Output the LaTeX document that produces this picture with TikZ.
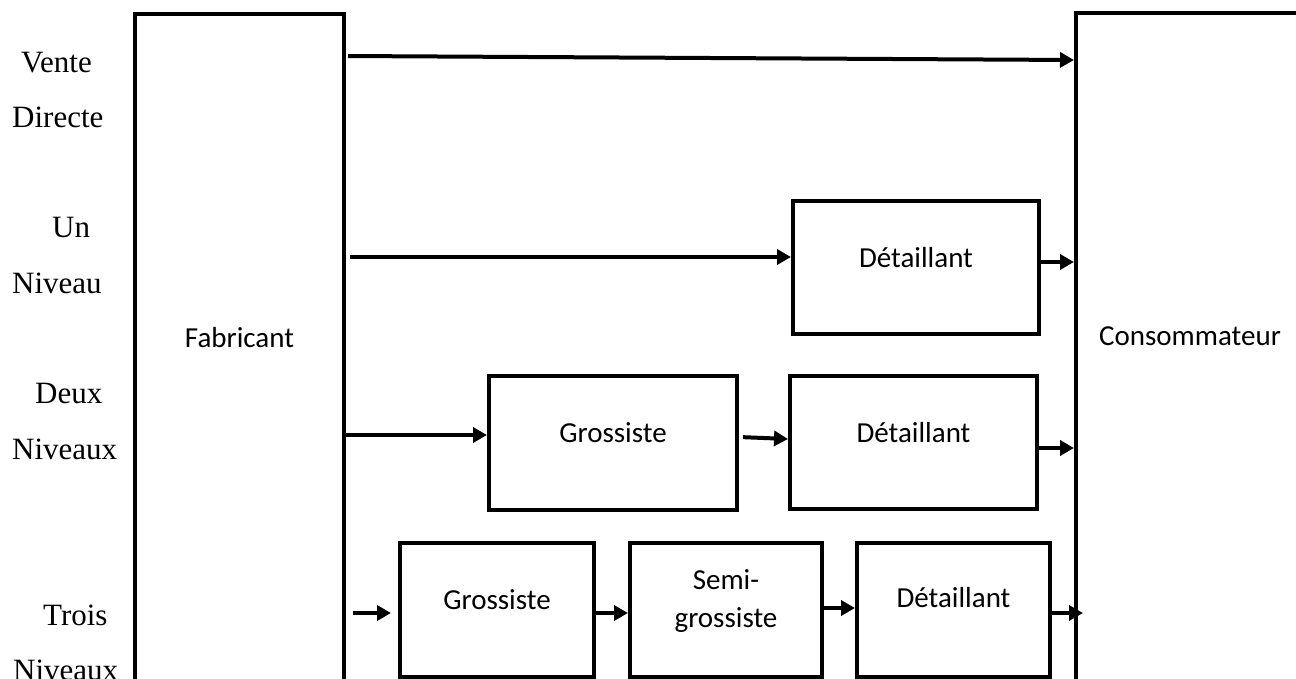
\documentclass[tikz,border=0pt]{standalone}
\usepackage{fontspec}
\setmainfont{Liberation Serif}
\newfontfamily\boxfont{Carlito}
\usetikzlibrary{arrows.meta}
\begin{document}
\begin{tikzpicture}[x=1pt,y=-1pt,
  stage/.style={draw, line width=4pt, inner sep=0pt},
  arr/.style={line width=4pt, -{Triangle[length=14pt,width=15pt]}},
  lbl/.style={font=\fontsize{31}{37}\selectfont, inner sep=0pt, anchor=base west},
  boxtxt/.style={font=\boxfont\fontsize{29}{38}\selectfont, align=center},
  bigtxt/.style={font=\boxfont\fontsize{29}{35}\selectfont, inner sep=0pt, anchor=base}]
\useasboundingbox (0,0) rectangle (1296,679);
\clip (0,0) rectangle (1296,679);
% big open boxes
\node[stage, minimum width=209pt, minimum height=786pt] (fab) at (239.5,407) {};
\node[stage, minimum width=324pt, minimum height=787pt] (con) at (1238,406.5) {};
\node[bigtxt] (fabt) at (239.5,347) {Fabricant};
\node[bigtxt] (cont) at (1190,345) {Consommateur};
% intermediate boxes
\node[stage, minimum width=246pt, minimum height=133pt, label={[boxtxt,yshift=10pt]center:Détaillant}] (det2) at (916,267.5) {};
\node[stage, minimum width=248pt, minimum height=134pt, label={[boxtxt,yshift=10pt]center:Grossiste}] (gro3) at (613,443) {};
\node[stage, minimum width=247pt, minimum height=133pt, label={[boxtxt,yshift=10pt]center:Détaillant}] (det3) at (913.5,442.5) {};
\node[stage, minimum width=194pt, minimum height=134pt, label={[boxtxt,yshift=10pt]center:Grossiste}] (gro4) at (497,610) {};
\node[stage, minimum width=192pt, minimum height=134pt, label={[boxtxt,yshift=9pt]center:Semi-\\grossiste}] (semi4) at (726,610) {};
\node[stage, minimum width=193pt, minimum height=134pt, label={[boxtxt,yshift=12pt]center:Détaillant}] (det4) at (953.5,610) {};
% left labels
\node[lbl] (l1) at (21,73) {Vente};
\node[lbl] (l2) at (12,128) {Directe};
\node[lbl] (l3) at (52,238) {Un};
\node[lbl] (l4) at (12,293) {Niveau};
\node[lbl] (l5) at (35,403) {Deux};
\node[lbl] (l6) at (12,459) {Niveaux};
\node[lbl] (l7) at (43,625) {Trois};
\node[lbl] (l8) at (13,680) {Niveaux};
% connectors
\draw[arr, shorten <=2pt] (fab.east |- 0,56) -- (con.west |- 0,60);
\draw[arr, shorten <=4pt] (fab.east |- 0,257) -- (det2.west |- 0,257);
\draw[arr] (det2.east |- 0,262) -- (con.west |- 0,262);
\draw[arr] (fab.east |- 0,435) -- (gro3.west |- 0,435);
\draw[arr, shorten <=4pt] (gro3.east |- 0,437) -- (det3.west |- 0,439);
\draw[arr] (det3.east |- 0,448) -- (con.west |- 0,448);
\coordinate (r4s) at (353,613);
\draw[arr, shorten >=7pt] (r4s) -- (r4s -| gro4.west);
\draw[arr] (gro4.east |- 0,613) -- (semi4.west |- 0,613);
\draw[arr] (semi4.east |- 0,608) -- (det4.west |- 0,608);
\coordinate (r4e) at (1083,613);
\draw[arr] (det4.east |- r4e) -- (r4e);
\end{tikzpicture}
\end{document}
